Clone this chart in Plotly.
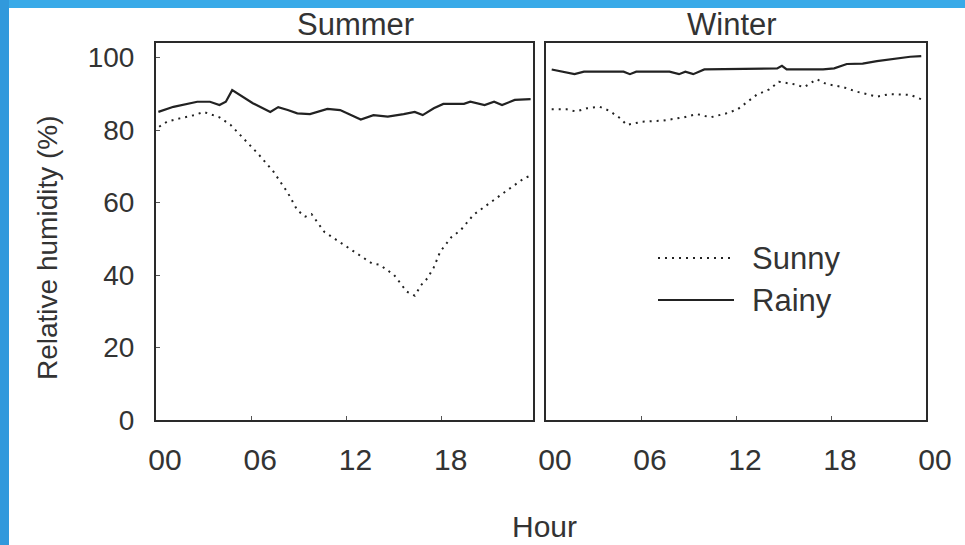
import plotly.graph_objects as go

# ---------------- data ----------------
summer_rainy_h = [0.15, 1.1, 2.6, 3.4, 4.0, 4.4, 4.8, 5.3, 6.1, 7.2, 7.7, 8.3, 8.9, 9.7, 10.8,
                  11.6, 12.3, 12.9, 13.7, 14.6, 15.6, 16.3, 16.8, 17.5, 18.1, 19.4, 19.8,
                  20.7, 21.3, 21.8, 22.6, 23.6]
summer_rainy_v = [85.0, 86.4, 87.8, 87.8, 86.9, 87.8, 91.0, 89.7, 87.4, 85.0, 86.3, 85.5, 84.6,
                  84.4, 85.8, 85.5, 84.1, 82.9, 84.1, 83.7, 84.4, 85.0, 84.1, 86.0, 87.2, 87.2,
                  87.8, 86.9, 87.8, 86.9, 88.3, 88.5]

summer_sunny_h = [0.2, 0.7, 1.5, 2.4, 3.0, 4.0, 4.7, 5.5, 6.5, 7.4, 8.3, 8.9, 9.4, 9.8, 10.6,
                  11.6, 12.6, 13.6, 14.1, 15.0, 15.8, 16.3, 16.7, 17.1, 17.5, 17.9, 18.6,
                  19.2, 20.0, 21.1, 22.2, 23.2, 23.7]
summer_sunny_v = [80.9, 82.3, 83.2, 84.1, 85.0, 83.5, 81.4, 77.7, 73.1, 68.5, 62.7, 57.9, 56.1,
                  56.8, 51.9, 49.0, 46.0, 43.2, 42.8, 40.0, 35.4, 34.3, 37.2, 39.1, 42.1, 46.4,
                  50.4, 52.4, 56.6, 60.2, 63.6, 66.7, 67.6]

winter_rainy_h = [0.36, 1.1, 1.8, 2.4, 4.9, 5.3, 5.7, 7.8, 8.4, 8.8, 9.3, 10.0, 14.6, 14.9,
                  15.2, 17.5, 18.2, 19.0, 20.0, 20.9, 21.9, 23.0, 23.7]
winter_rainy_v = [96.7, 96.1, 95.4, 96.1, 96.1, 95.4, 96.1, 96.1, 95.4, 96.1, 95.4, 96.7, 97.0,
                  97.7, 96.7, 96.7, 97.0, 98.2, 98.3, 99.0, 99.6, 100.2, 100.4]

winter_sunny_h = [0.36, 1.3, 1.9, 2.6, 3.4, 4.0, 4.7, 5.1, 6.1, 7.4, 8.7, 9.5, 10.4, 11.4, 12.1,
                  12.6, 13.3, 14.1, 14.7, 15.6, 16.3, 17.1, 17.7, 18.8, 19.6, 20.9, 21.7,
                  23.0, 23.7]
winter_sunny_v = [85.7, 85.7, 85.1, 86.0, 86.4, 85.3, 83.2, 81.4, 82.3, 82.6, 83.5, 84.4, 83.5,
                  84.6, 85.7, 87.4, 89.7, 91.2, 93.3, 92.7, 91.8, 94.0, 92.7, 91.8, 90.6, 89.2,
                  89.9, 89.7, 88.5]

panel_titles = ["Summer", "Winter"]
series_names = ["Sunny", "Rainy"]
y_ticks = [0, 20, 40, 60, 80, 100]
x_ticks_summer = [0, 6, 12, 18]
x_labels_summer = ["00", "06", "12", "18"]
x_ticks_winter = [0, 6, 12, 18, 24]
x_labels_winter = ["00", "06", "12", "18", "00"]

# ---------------- styling ----------------
W, H = 965, 545
L, R, T, B = 156, 39, 43, 125
PW, PH = W - L - R, H - T - B
FONT = "Liberation Sans, Arial, sans-serif"
TXT = "#333333"
LINE = "#222222"
DOT = "2px,5px"


def px_x(p):
    return (p - L) / PW


def px_y(p):
    return (H - B - p) / PH


fig = go.Figure()

fig.add_trace(go.Scatter(x=summer_sunny_h, y=summer_sunny_v, mode="lines", name="Sunny",
                         line=dict(color=LINE, width=2, dash=DOT), xaxis="x", yaxis="y",
                         showlegend=False))
fig.add_trace(go.Scatter(x=summer_rainy_h, y=summer_rainy_v, mode="lines", name="Rainy",
                         line=dict(color=LINE, width=2.2), xaxis="x", yaxis="y",
                         showlegend=False))
fig.add_trace(go.Scatter(x=winter_sunny_h, y=winter_sunny_v, mode="lines", name="Sunny",
                         line=dict(color=LINE, width=2, dash=DOT), xaxis="x2", yaxis="y2",
                         showlegend=False))
fig.add_trace(go.Scatter(x=winter_rainy_h, y=winter_rainy_v, mode="lines", name="Rainy",
                         line=dict(color=LINE, width=2.2), xaxis="x2", yaxis="y2",
                         showlegend=False))

axis_common = dict(showline=True, linewidth=2, linecolor="#2a2a2a", mirror=True,
                   showgrid=False, zeroline=False, ticks="inside", ticklen=4,
                   tickcolor="#555555", tickwidth=1)

d1 = (0, px_x(533))
d2 = (px_x(546), 1)

fig.update_layout(
    width=W, height=H,
    margin=dict(l=L, r=R, t=T, b=B, pad=0),
    paper_bgcolor="white", plot_bgcolor="white",
    font=dict(family=FONT, color=TXT),
    showlegend=False,
    xaxis=dict(domain=d1, range=[0, 23.75], tickvals=x_ticks_summer, ticktext=x_labels_summer,
               tickfont=dict(size=30, color=TXT), ticklabelstandoff=12, ticklabelshift=9,
               anchor="y", **axis_common),
    xaxis2=dict(domain=d2, range=[0, 24], tickvals=x_ticks_winter, ticktext=x_labels_winter,
                tickfont=dict(size=30, color=TXT), ticklabelstandoff=12, ticklabelshift=9,
                anchor="y2", **axis_common),
    yaxis=dict(domain=(0, 1), range=[0, 104], tickvals=y_ticks,
               tickfont=dict(size=28, color=TXT), ticklabelstandoff=14,
               anchor="x", **axis_common),
    yaxis2=dict(domain=(0, 1), range=[0, 104], tickvals=y_ticks, showticklabels=False,
                anchor="x2", **{**axis_common, "ticks": ""}),
)

# blue slide frame
BLUE = "#39aae8"
fig.add_shape(type="rect", xref="paper", yref="paper", x0=px_x(0), x1=px_x(W),
              y0=px_y(8), y1=px_y(0), fillcolor=BLUE, line_width=0, layer="below")
fig.add_shape(type="rect", xref="paper", yref="paper", x0=px_x(0), x1=px_x(9),
              y0=px_y(H), y1=px_y(0), fillcolor="#3199dc", line_width=0, layer="below")

# panel titles
fig.add_annotation(text=panel_titles[0], x=px_x(355), y=px_y(24), xref="paper", yref="paper",
                   showarrow=False, font=dict(size=31, color=TXT), xanchor="center",
                   yanchor="middle")
fig.add_annotation(text=panel_titles[1], x=px_x(732), y=px_y(24), xref="paper", yref="paper",
                   showarrow=False, font=dict(size=31, color=TXT), xanchor="center",
                   yanchor="middle")

# axis titles
fig.add_annotation(text="Hour", x=px_x(544), y=px_y(526), xref="paper", yref="paper",
                   showarrow=False, font=dict(size=30, color=TXT), xanchor="center",
                   yanchor="middle")
fig.add_annotation(text="Relative humidity (%)", x=px_x(48), y=px_y(248), xref="paper",
                   yref="paper", showarrow=False, textangle=-90,
                   font=dict(size=28, color=TXT), xanchor="center", yanchor="middle")

# legend (drawn)
fig.add_shape(type="line", xref="paper", yref="paper", x0=px_x(658), x1=px_x(731),
              y0=px_y(258), y1=px_y(258), line=dict(color=LINE, width=2, dash=DOT))
fig.add_shape(type="line", xref="paper", yref="paper", x0=px_x(658), x1=px_x(734),
              y0=px_y(300), y1=px_y(300), line=dict(color=LINE, width=2.2))
fig.add_annotation(text=series_names[0], x=px_x(750), y=px_y(258), xref="paper", yref="paper",
                   showarrow=False, font=dict(size=31, color=TXT), xanchor="left",
                   yanchor="middle")
fig.add_annotation(text=series_names[1], x=px_x(750), y=px_y(300), xref="paper", yref="paper",
                   showarrow=False, font=dict(size=31, color=TXT), xanchor="left",
                   yanchor="middle")

fig.write_html("out.html",
               config={"displayModeBar": False},
               post_script="document.body.style.margin='0';"
                           "document.body.style.overflow='hidden';")
